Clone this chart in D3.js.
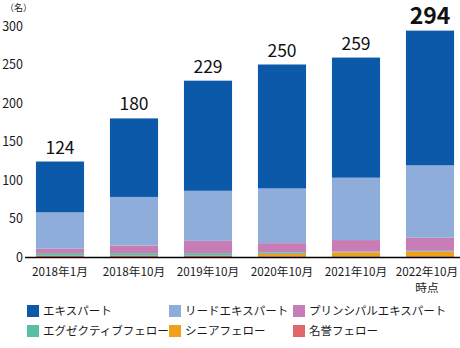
<!DOCTYPE html>
<html lang="ja">
<head>
<meta charset="utf-8">
<script src="https://cdn.jsdelivr.net/npm/d3@7"></script>
<style>
  html, body { margin: 0; padding: 0; background: #fff; }
  svg { display: block; font-family: "Noto Sans CJK JP", "Noto Sans", sans-serif; }
</style>
</head>
<body>
<svg id="chart" width="460" height="348"></svg>
<script>
// Categories (x axis), one label line per array entry
const categories = ["2018年1月", "2018年10月", "2019年10月", "2020年10月", "2021年10月", "2022年10月時点"];
const categoryLines = [["2018年1月"], ["2018年10月"], ["2019年10月"], ["2020年10月"], ["2021年10月"], ["2022年10月", "時点"]];

// Series, listed from the bottom of each stack upward
const seriesNames = ["名誉フェロー", "シニアフェロー", "エグゼクティブフェロー", "プリンシパルエキスパート", "リードエキスパート", "エキスパート"];
const honoraryFellow   = [2, 2, 2, 1, 1, 1];
const seniorFellow     = [0, 0, 0, 3, 5, 6];
const executiveFellow  = [3, 3, 3, 2, 1, 1];
const principalExpert  = [6, 10, 16, 12, 15, 17];
const leadExpert       = [47, 63, 65, 71, 81, 94];
const expert           = [66, 102, 143, 161, 156, 175];

// Totals printed above the bars
const totals = [124, 180, 229, 250, 259, 294];

// Y axis ticks
const yTicks = [0, 50, 100, 150, 200, 250, 300];

// Legend order (two rows of three)
const legendOrder = ["エキスパート", "リードエキスパート", "プリンシパルエキスパート", "エグゼクティブフェロー", "シニアフェロー", "名誉フェロー"];

const colors = {
  "エキスパート": "#0c59a9",
  "リードエキスパート": "#8eaddb",
  "プリンシパルエキスパート": "#c97db7",
  "エグゼクティブフェロー": "#58bfa4",
  "シニアフェロー": "#f1a01a",
  "名誉フェロー": "#e06868"
};

const seriesValues = [honoraryFellow, seniorFellow, executiveFellow, principalExpert, leadExpert, expert];
const rows = categories.map((c, i) => {
  const r = { category: c };
  seriesNames.forEach((s, k) => { r[s] = seriesValues[k][i]; });
  return r;
});

const svg = d3.select("#chart");

const x = d3.scaleBand()
  .domain(categories)
  .range([23, 467])
  .paddingInner(0.35)
  .paddingOuter(0.175);

const y = d3.scaleLinear()
  .domain([0, 300])
  .range([257, 26]);

const layers = d3.stack().keys(seriesNames)(rows);

// Stacked bars
svg.append("g")
  .selectAll("g")
  .data(layers)
  .join("g")
  .attr("fill", d => colors[d.key])
  .selectAll("rect")
  .data(d => d)
  .join("rect")
  .attr("x", d => x(d.data.category))
  .attr("width", x.bandwidth())
  .attr("y", d => y(d[1]))
  .attr("height", d => Math.max(0, y(d[0]) - y(d[1])));

// Y axis (labels only)
const yAxis = svg.append("g")
  .attr("transform", "translate(24,0)")
  .call(d3.axisLeft(y).tickValues(yTicks).tickSize(0).tickPadding(1));
yAxis.select(".domain").remove();
yAxis.selectAll("text")
  .attr("font-size", 12.5)
  .attr("fill", "#1a1a1a")
  .style("font-family", "'Noto Sans CJK JP', sans-serif");

// Unit label
svg.append("text")
  .attr("x", 5)
  .attr("y", 11)
  .attr("font-size", 9)
  .attr("fill", "#1a1a1a")
  .text("（名）");

// X axis line
const xAxis = svg.append("g")
  .attr("transform", `translate(0,${y(0)})`)
  .call(d3.axisBottom(x).tickSize(0).tickFormat(() => ""));
xAxis.select(".domain")
  .attr("stroke", "#000")
  .attr("stroke-width", 1.4)
  .attr("d", "M25,0.5H460");
xAxis.selectAll(".tick text").remove();

// Category labels, wrapped onto several lines where needed
const catLabels = svg.append("g")
  .selectAll("text")
  .data(categories)
  .join("text")
  .attr("text-anchor", "middle")
  .attr("font-size", 11.7)
  .attr("fill", "#1a1a1a");
catLabels.selectAll("tspan")
  .data((d, i) => categoryLines[i].map(l => ({ line: l, cx: x(d) + x.bandwidth() / 2 })))
  .join("tspan")
  .attr("x", d => Math.min(d.cx, 427))
  .attr("y", (d, j) => y(0) + 19 + j * 16)
  .text(d => d.line);

// Total labels
svg.append("g")
  .selectAll("text")
  .data(categories)
  .join("text")
  .attr("x", d => x(d) + x.bandwidth() / 2)
  .attr("y", (d, i) => y(totals[i]) - (i === totals.length - 1 ? 7 : 8))
  .attr("text-anchor", "middle")
  .attr("font-size", (d, i) => i === totals.length - 1 ? 23 : 17.5)
  .attr("font-weight", (d, i) => i === totals.length - 1 ? 700 : 400)
  .attr("fill", "#111")
  .text((d, i) => totals[i]);

// Legend
const legendX = [27, 169, 293];
const legendY = [311, 331];
const legend = svg.append("g")
  .selectAll("g")
  .data(legendOrder)
  .join("g")
  .attr("transform", (d, i) => `translate(${legendX[i % 3]},${legendY[Math.floor(i / 3)]})`);
legend.append("rect")
  .attr("x", 0)
  .attr("y", -6)
  .attr("width", 12)
  .attr("height", 12)
  .attr("fill", d => colors[d]);
legend.append("text")
  .attr("x", 16)
  .attr("y", 0)
  .attr("dy", "0.36em")
  .attr("font-size", 11.5)
  .attr("fill", "#1a1a1a")
  .text(d => d);
</script>
</body>
</html>
